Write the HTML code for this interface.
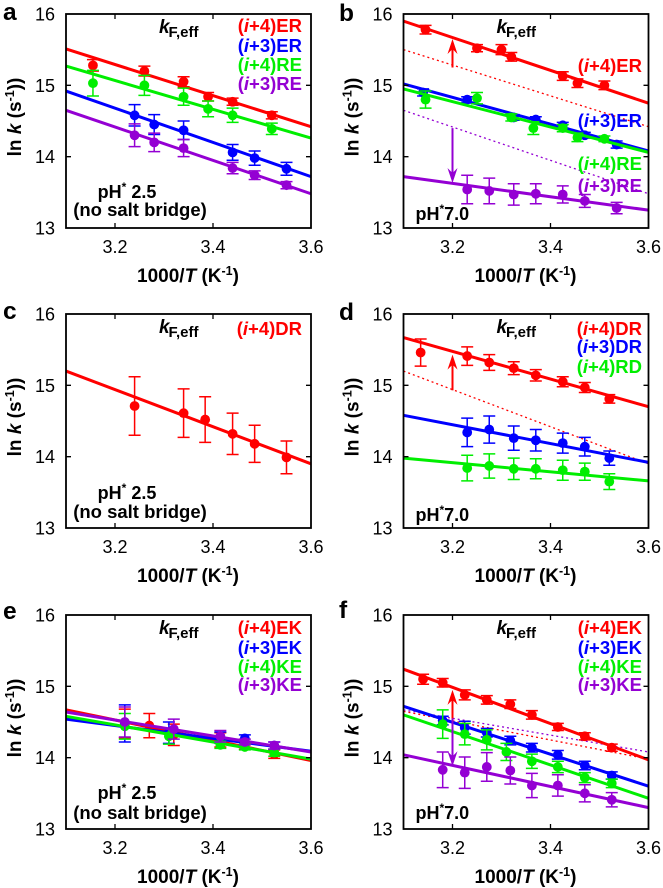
<!DOCTYPE html>
<html lang="en">
<head>
<meta charset="utf-8">
<title>Folding rate Arrhenius plots</title>
<style>
html,body{margin:0;padding:0;background:#fff;width:663px;height:888px;overflow:hidden}
svg{display:block}
text{font-family:"Liberation Sans",Arial,sans-serif;fill:#000}
</style>
</head>
<body>
<svg id="fig" width="663" height="888" viewBox="0 0 663 888" xmlns="http://www.w3.org/2000/svg"></svg>
<script>
// Shared axis values
const xDomain = [3.1, 3.6];
const yDomain = [13, 16];
const xTickValues = [3.2, 3.4, 3.6];
const yTickValues = [13, 14, 15, 16];

// Panel a
const aRedX = [3.155, 3.26, 3.34, 3.39, 3.44, 3.52];
const aRedY = [15.28, 15.2, 15.05, 14.84, 14.77, 14.58];
const aRedE = [0.08, 0.07, 0.07, 0.06, 0.05, 0.05];
const aRedFit = [15.51, 14.42];
const aGreenX = [3.155, 3.26, 3.34, 3.39, 3.44, 3.52];
const aGreenY = [15.03, 15.0, 14.84, 14.67, 14.58, 14.39];
const aGreenE = [0.18, 0.14, 0.12, 0.11, 0.1, 0.08];
const aGreenFit = [15.27, 14.26];
const aBlueX = [3.24, 3.28, 3.34, 3.44, 3.485, 3.55];
const aBlueY = [14.58, 14.45, 14.37, 14.06, 13.98, 13.83];
const aBlueE = [0.15, 0.14, 0.13, 0.11, 0.1, 0.09];
const aBlueFit = [14.92, 13.72];
const aPurpleX = [3.24, 3.28, 3.34, 3.44, 3.485, 3.55];
const aPurpleY = [14.3, 14.2, 14.12, 13.84, 13.74, 13.6];
const aPurpleE = [0.16, 0.13, 0.12, 0.08, 0.06, 0.05];
const aPurpleFit = [14.65, 13.48];

// Panel b
const bRedX = [3.145, 3.25, 3.3, 3.32, 3.425, 3.455, 3.51];
const bRedY = [15.78, 15.52, 15.5, 15.4, 15.13, 15.03, 15.0];
const bRedE = [0.06, 0.05, 0.07, 0.06, 0.06, 0.06, 0.06];
const bRedFit = [15.9, 14.75];
const bRedRef = [15.5, 14.42];
const bBlueX = [3.14, 3.23, 3.325, 3.37, 3.425, 3.47, 3.535];
const bBlueY = [14.9, 14.8, 14.55, 14.52, 14.44, 14.3, 14.17];
const bBlueE = [0.05, 0.04, 0.04, 0.04, 0.04, 0.04, 0.05];
const bBlueFit = [15.02, 14.08];
const bGreenX = [3.145, 3.25, 3.32, 3.365, 3.425, 3.455, 3.51];
const bGreenY = [14.8, 14.82, 14.55, 14.4, 14.4, 14.27, 14.25];
const bGreenE = [0.12, 0.08, 0.05, 0.09, 0.05, 0.06, 0.04];
const bGreenFit = [14.95, 14.06];
const bPurpleX = [3.23, 3.275, 3.325, 3.37, 3.425, 3.47, 3.535];
const bPurpleY = [13.54, 13.52, 13.47, 13.48, 13.47, 13.38, 13.28];
const bPurpleE = [0.2, 0.18, 0.15, 0.14, 0.12, 0.09, 0.08];
const bPurpleFit = [13.72, 13.25];
const bPurpleRef = [14.65, 13.48];
const bRedArrow = [15.25, 15.65];
const bPurpleArrow = [14.4, 13.63];

// Panel c
const cRedX = [3.24, 3.34, 3.384, 3.44, 3.485, 3.55];
const cRedY = [14.71, 14.61, 14.52, 14.32, 14.18, 13.99];
const cRedE = [0.41, 0.34, 0.32, 0.29, 0.26, 0.23];
const cRedFit = [15.2, 13.9];

// Panel d
const dRedX = [3.135, 3.23, 3.275, 3.325, 3.37, 3.425, 3.47, 3.52];
const dRedY = [15.46, 15.41, 15.32, 15.24, 15.14, 15.05, 14.97, 14.81];
const dRedE = [0.19, 0.13, 0.11, 0.09, 0.08, 0.07, 0.07, 0.06];
const dRedFit = [15.67, 14.7];
const dRedRef = [15.2, 13.9];
const dBlueX = [3.23, 3.275, 3.325, 3.37, 3.425, 3.47, 3.52];
const dBlueY = [14.34, 14.38, 14.26, 14.23, 14.19, 14.14, 13.98];
const dBlueE = [0.2, 0.19, 0.17, 0.15, 0.14, 0.13, 0.1];
const dBlueFit = [14.58, 13.92];
const dGreenX = [3.23, 3.275, 3.325, 3.37, 3.425, 3.47, 3.52];
const dGreenY = [13.84, 13.87, 13.83, 13.83, 13.81, 13.79, 13.65];
const dGreenE = [0.18, 0.17, 0.15, 0.14, 0.14, 0.12, 0.11];
const dGreenFit = [13.98, 13.66];
const dRedArrow = [14.93, 15.43];

// Panel e
const eRedX = [3.22, 3.27, 3.32, 3.415, 3.465, 3.525];
const eRedY = [14.48, 14.45, 14.32, 14.25, 14.17, 14.05];
const eRedE = [0.2, 0.17, 0.15, 0.1, 0.05, 0.06];
const eRedFit = [14.67, 13.96];
const eBlueX = [3.22, 3.31, 3.415, 3.465, 3.525];
const eBlueY = [14.48, 14.35, 14.28, 14.27, 14.17];
const eBlueE = [0.26, 0.15, 0.08, 0.05, 0.05];
const eBlueFit = [14.54, 14.09];
const eGreenX = [3.22, 3.31, 3.415, 3.465, 3.525];
const eGreenY = [14.44, 14.3, 14.18, 14.15, 14.07];
const eGreenE = [0.18, 0.11, 0.05, 0.04, 0.05];
const eGreenFit = [14.58, 13.98];
const ePurpleX = [3.22, 3.32, 3.415, 3.465, 3.525];
const ePurpleY = [14.5, 14.4, 14.3, 14.22, 14.17];
const ePurpleE = [0.21, 0.14, 0.08, 0.04, 0.05];
const ePurpleFit = [14.64, 14.08];

// Panel f
const fRedX = [3.14, 3.18, 3.225, 3.27, 3.318, 3.362, 3.415, 3.47, 3.525];
const fRedY = [15.1, 15.05, 14.88, 14.81, 14.75, 14.6, 14.43, 14.3, 14.14];
const fRedE = [0.07, 0.06, 0.07, 0.06, 0.06, 0.06, 0.05, 0.05, 0.05];
const fRedFit = [15.24, 13.97];
const fRedRef = [14.65, 13.98];
const fBlueX = [3.18, 3.225, 3.27, 3.318, 3.362, 3.415, 3.47, 3.525];
const fBlueY = [14.52, 14.42, 14.35, 14.24, 14.14, 14.04, 13.89, 13.75];
const fBlueE = [0.06, 0.09, 0.06, 0.06, 0.06, 0.06, 0.06, 0.05];
const fBlueFit = [14.72, 13.6];
const fGreenX = [3.18, 3.225, 3.27, 3.31, 3.362, 3.415, 3.47, 3.525];
const fGreenY = [14.47, 14.33, 14.25, 14.08, 13.95, 13.87, 13.72, 13.64];
const fGreenE = [0.2, 0.15, 0.14, 0.12, 0.1, 0.08, 0.07, 0.06];
const fGreenFit = [14.6, 13.43];
const fPurpleX = [3.18, 3.225, 3.27, 3.318, 3.362, 3.415, 3.47, 3.525];
const fPurpleY = [13.83, 13.79, 13.87, 13.82, 13.61, 13.61, 13.5, 13.41];
const fPurpleE = [0.25, 0.22, 0.2, 0.19, 0.17, 0.15, 0.12, 0.1];
const fPurpleFit = [14.04, 13.3];
const fPurpleRef = [14.67, 14.08];
const fRedArrow = [14.55, 14.95];
const fPurpleArrow = [14.55, 13.88];

const RED = '#ff0000', BLUE = '#0000ff', GREEN = '#00ee00', PURPLE = '#9400d3';
const NS = 'http://www.w3.org/2000/svg';
const fig = document.getElementById('fig');

function mk(parent, tag, attrs, name) {
  const el = document.createElementNS(NS, tag);
  for (const k in attrs) el.setAttribute(k, attrs[k]);
  
  
  parent.appendChild(el);
  return el;
}
function txt(parent, x, y, html, size, weight, anchor, name) {
  const el = mk(parent, 'text', {x: x, y: y, 'font-size': size, 'font-weight': weight, 'text-anchor': anchor}, name);
  el.innerHTML = html;
  return el;
}
function legendHtml(s) {
  return s.replace('i', '<tspan font-style="italic">i</tspan>');
}

const panels = [
  {id:'a', box:[66,14], letter:[3,20], pH:'2.5', phY:[198,216], legendRight:302,
   series:[
    {label:'(i+4)ER', color:RED, x:aRedX, y:aRedY, e:aRedE, fit:aRedFit, ly:32},
    {label:'(i+3)ER', color:BLUE, x:aBlueX, y:aBlueY, e:aBlueE, fit:aBlueFit, ly:52},
    {label:'(i+4)RE', color:GREEN, x:aGreenX, y:aGreenY, e:aGreenE, fit:aGreenFit, ly:71},
    {label:'(i+3)RE', color:PURPLE, x:aPurpleX, y:aPurpleY, e:aPurpleE, fit:aPurpleFit, ly:90}],
   refs:[], arrows:[]},
  {id:'b', box:[403.5,14], letter:[339,21], pH:'7.0', phY:[220], legendRight:642,
   series:[
    {label:'(i+4)ER', color:RED, x:bRedX, y:bRedY, e:bRedE, fit:bRedFit, ly:72},
    {label:'(i+3)ER', color:BLUE, x:bBlueX, y:bBlueY, e:bBlueE, fit:bBlueFit, ly:127},
    {label:'(i+4)RE', color:GREEN, x:bGreenX, y:bGreenY, e:bGreenE, fit:bGreenFit, ly:170},
    {label:'(i+3)RE', color:PURPLE, x:bPurpleX, y:bPurpleY, e:bPurpleE, fit:bPurpleFit, ly:192}],
   refs:[{color:RED, fit:bRedRef},{color:PURPLE, fit:bPurpleRef}],
   arrows:[{color:RED, v:bRedArrow},{color:PURPLE, v:bPurpleArrow}]},
  {id:'c', box:[66,314], letter:[3,319], pH:'2.5', phY:[499,518], legendRight:302,
   series:[
    {label:'(i+4)DR', color:RED, x:cRedX, y:cRedY, e:cRedE, fit:cRedFit, ly:335}],
   refs:[], arrows:[]},
  {id:'d', box:[403.5,314], letter:[339,320], pH:'7.0', phY:[521], legendRight:642,
   series:[
    {label:'(i+4)DR', color:RED, x:dRedX, y:dRedY, e:dRedE, fit:dRedFit, ly:335},
    {label:'(i+3)DR', color:BLUE, x:dBlueX, y:dBlueY, e:dBlueE, fit:dBlueFit, ly:353},
    {label:'(i+4)RD', color:GREEN, x:dGreenX, y:dGreenY, e:dGreenE, fit:dGreenFit, ly:373}],
   refs:[{color:RED, fit:dRedRef}],
   arrows:[{color:RED, v:dRedArrow}]},
  {id:'e', box:[66,615], letter:[3,619], pH:'2.5', phY:[799,819], legendRight:302,
   series:[
    {label:'(i+4)EK', color:RED, x:eRedX, y:eRedY, e:eRedE, fit:eRedFit, ly:634},
    {label:'(i+3)EK', color:BLUE, x:eBlueX, y:eBlueY, e:eBlueE, fit:eBlueFit, ly:654},
    {label:'(i+4)KE', color:GREEN, x:eGreenX, y:eGreenY, e:eGreenE, fit:eGreenFit, ly:673},
    {label:'(i+3)KE', color:PURPLE, x:ePurpleX, y:ePurpleY, e:ePurpleE, fit:ePurpleFit, ly:691}],
   refs:[], arrows:[]},
  {id:'f', box:[403.5,615], letter:[339,618], pH:'7.0', phY:[819], legendRight:642,
   series:[
    {label:'(i+4)EK', color:RED, x:fRedX, y:fRedY, e:fRedE, fit:fRedFit, ly:634},
    {label:'(i+3)EK', color:BLUE, x:fBlueX, y:fBlueY, e:fBlueE, fit:fBlueFit, ly:654},
    {label:'(i+4)KE', color:GREEN, x:fGreenX, y:fGreenY, e:fGreenE, fit:fGreenFit, ly:673},
    {label:'(i+3)KE', color:PURPLE, x:fPurpleX, y:fPurpleY, e:fPurpleE, fit:fPurpleFit, ly:691}],
   refs:[{color:RED, fit:fRedRef},{color:PURPLE, fit:fPurpleRef}],
   arrows:[{color:RED, v:fRedArrow},{color:PURPLE, v:fPurpleArrow}]}
];

const W = 245, H = 214;
panels.forEach(function (p) {
  const g = mk(fig, 'g', {}, 'panel-' + p.id);
  const L = p.box[0], T = p.box[1], R = L + W, B = T + H;
  const sx = function (v) { return L + (v - xDomain[0]) / (xDomain[1] - xDomain[0]) * W; };
  const sy = function (v) { return B - (v - yDomain[0]) / (yDomain[1] - yDomain[0]) * H; };

  txt(g, p.letter[0], p.letter[1], p.id, 24.5, 'bold', 'start', 'panel-letter-' + p.id);

  // dotted reference lines
  p.refs.forEach(function (r) {
    mk(g, 'line', {x1: sx(xDomain[0]), y1: sy(r.fit[0]), x2: sx(xDomain[1]), y2: sy(r.fit[1]), stroke: r.color, 'stroke-width': 1.3, 'stroke-dasharray': '2 3'}, 'reference-line');
  });

  // series marks
  p.series.forEach(function (s) {
    const sg = mk(g, 'g', {}, 'series-' + s.label);
    mk(sg, 'line', {x1: sx(xDomain[0]), y1: sy(s.fit[0]), x2: sx(xDomain[1]), y2: sy(s.fit[1]), stroke: s.color, 'stroke-width': 3}, 'fit-line');
    s.x.forEach(function (xv, i) {
      const cx = sx(xv), yv = s.y[i], er = s.e[i];
      const hi = sy(yv + er), lo = sy(yv - er);
      mk(sg, 'path', {d: 'M' + cx + ' ' + hi + 'V' + lo + 'M' + (cx - 6) + ' ' + hi + 'H' + (cx + 6) + 'M' + (cx - 6) + ' ' + lo + 'H' + (cx + 6), stroke: s.color, 'stroke-width': 1.5, fill: 'none'}, 'error-bar');
      mk(sg, 'circle', {cx: cx, cy: sy(yv), r: 4.9, fill: s.color}, 'data-point');
    });
  });

  // arrows at x = 3.2
  p.arrows.forEach(function (a) {
    const ax = sx(3.2), y0 = sy(a.v[0]), y1 = sy(a.v[1]);
    const dir = y0 > y1 ? 1 : -1;
    mk(g, 'line', {x1: ax, y1: y0, x2: ax, y2: y1 + dir * 8, stroke: a.color, 'stroke-width': 2}, 'shift-arrow-shaft');
    mk(g, 'path', {d: 'M' + ax + ' ' + y1 + 'L' + (ax - 5) + ' ' + (y1 + dir * 15) + 'L' + ax + ' ' + (y1 + dir * 10) + 'L' + (ax + 5) + ' ' + (y1 + dir * 15) + 'Z', fill: a.color}, 'shift-arrow-head');
  });

  // ticks
  xTickValues.forEach(function (v) {
    const x = sx(v);
    if (v < xDomain[1]) {
      mk(g, 'path', {d: 'M' + x + ' ' + B + 'v-5M' + x + ' ' + T + 'v5', stroke: '#000', 'stroke-width': 1.3}, 'x-tick');
    }
    txt(g, x, B + 25, v.toFixed(1), 18, 'normal', 'middle', 'x-tick-label');
  });
  yTickValues.forEach(function (v) {
    const y = sy(v);
    if (v > yDomain[0] && v < yDomain[1]) {
      mk(g, 'path', {d: 'M' + L + ' ' + y + 'h5M' + R + ' ' + y + 'h-5', stroke: '#000', 'stroke-width': 1.3}, 'y-tick');
    }
    txt(g, L - 11, y + 6.5, String(v), 18, 'normal', 'end', 'y-tick-label');
  });

  // frame
  mk(g, 'rect', {x: L, y: T, width: W, height: H, fill: 'none', stroke: '#000', 'stroke-width': 1.8}, 'plot-frame');

  // axis titles
  txt(g, L + 122, B + 54, '1000/<tspan font-style="italic">T</tspan> (K<tspan dy="-7" font-size="12.5">-1</tspan><tspan dy="7">)</tspan>', 19, 'bold', 'middle', 'x-axis-title');
  const yt = txt(g, 0, 0, 'ln <tspan font-style="italic">k</tspan> (s<tspan dy="-7" font-size="12.5">-1</tspan><tspan dy="7">))</tspan>', 19, 'bold', 'middle', 'y-axis-title');
  yt.setAttribute('transform', 'translate(' + (L - 45) + ' ' + (T + 103) + ') rotate(-90)');

  // rate label
  const kg = mk(g, 'g', {}, 'rate-label');
  txt(kg, L + 93, T + 19, 'k', 19, 'bold', 'start', 'rate-symbol').setAttribute('font-style', 'italic');
  txt(kg, L + 102.5, T + 23, 'F,eff', 15, 'bold', 'start', 'rate-subscript');

  // legend
  p.series.forEach(function (s) {
    const t = txt(g, p.legendRight, s.ly, legendHtml(s.label), 18.5, 'bold', 'end', 'legend-entry');
    t.setAttribute('fill', s.color);
    t.style.fill = s.color;
  });

  // condition label
  if (p.phY.length === 2) {
    txt(g, L + 61, p.phY[0], 'pH<tspan dy="-7" font-size="12">*</tspan><tspan dy="7"> 2.5</tspan>', 18, 'bold', 'middle', 'ph-label');
    txt(g, L + 74, p.phY[1], '(no salt bridge)', 18.5, 'bold', 'middle', 'salt-bridge-label');
  } else {
    txt(g, L + 12, p.phY[0], 'pH<tspan dy="-7" font-size="12">*</tspan><tspan dy="7">' + p.pH + '</tspan>', 18, 'bold', 'start', 'ph-label');
  }
});
</script>
</body>
</html>
